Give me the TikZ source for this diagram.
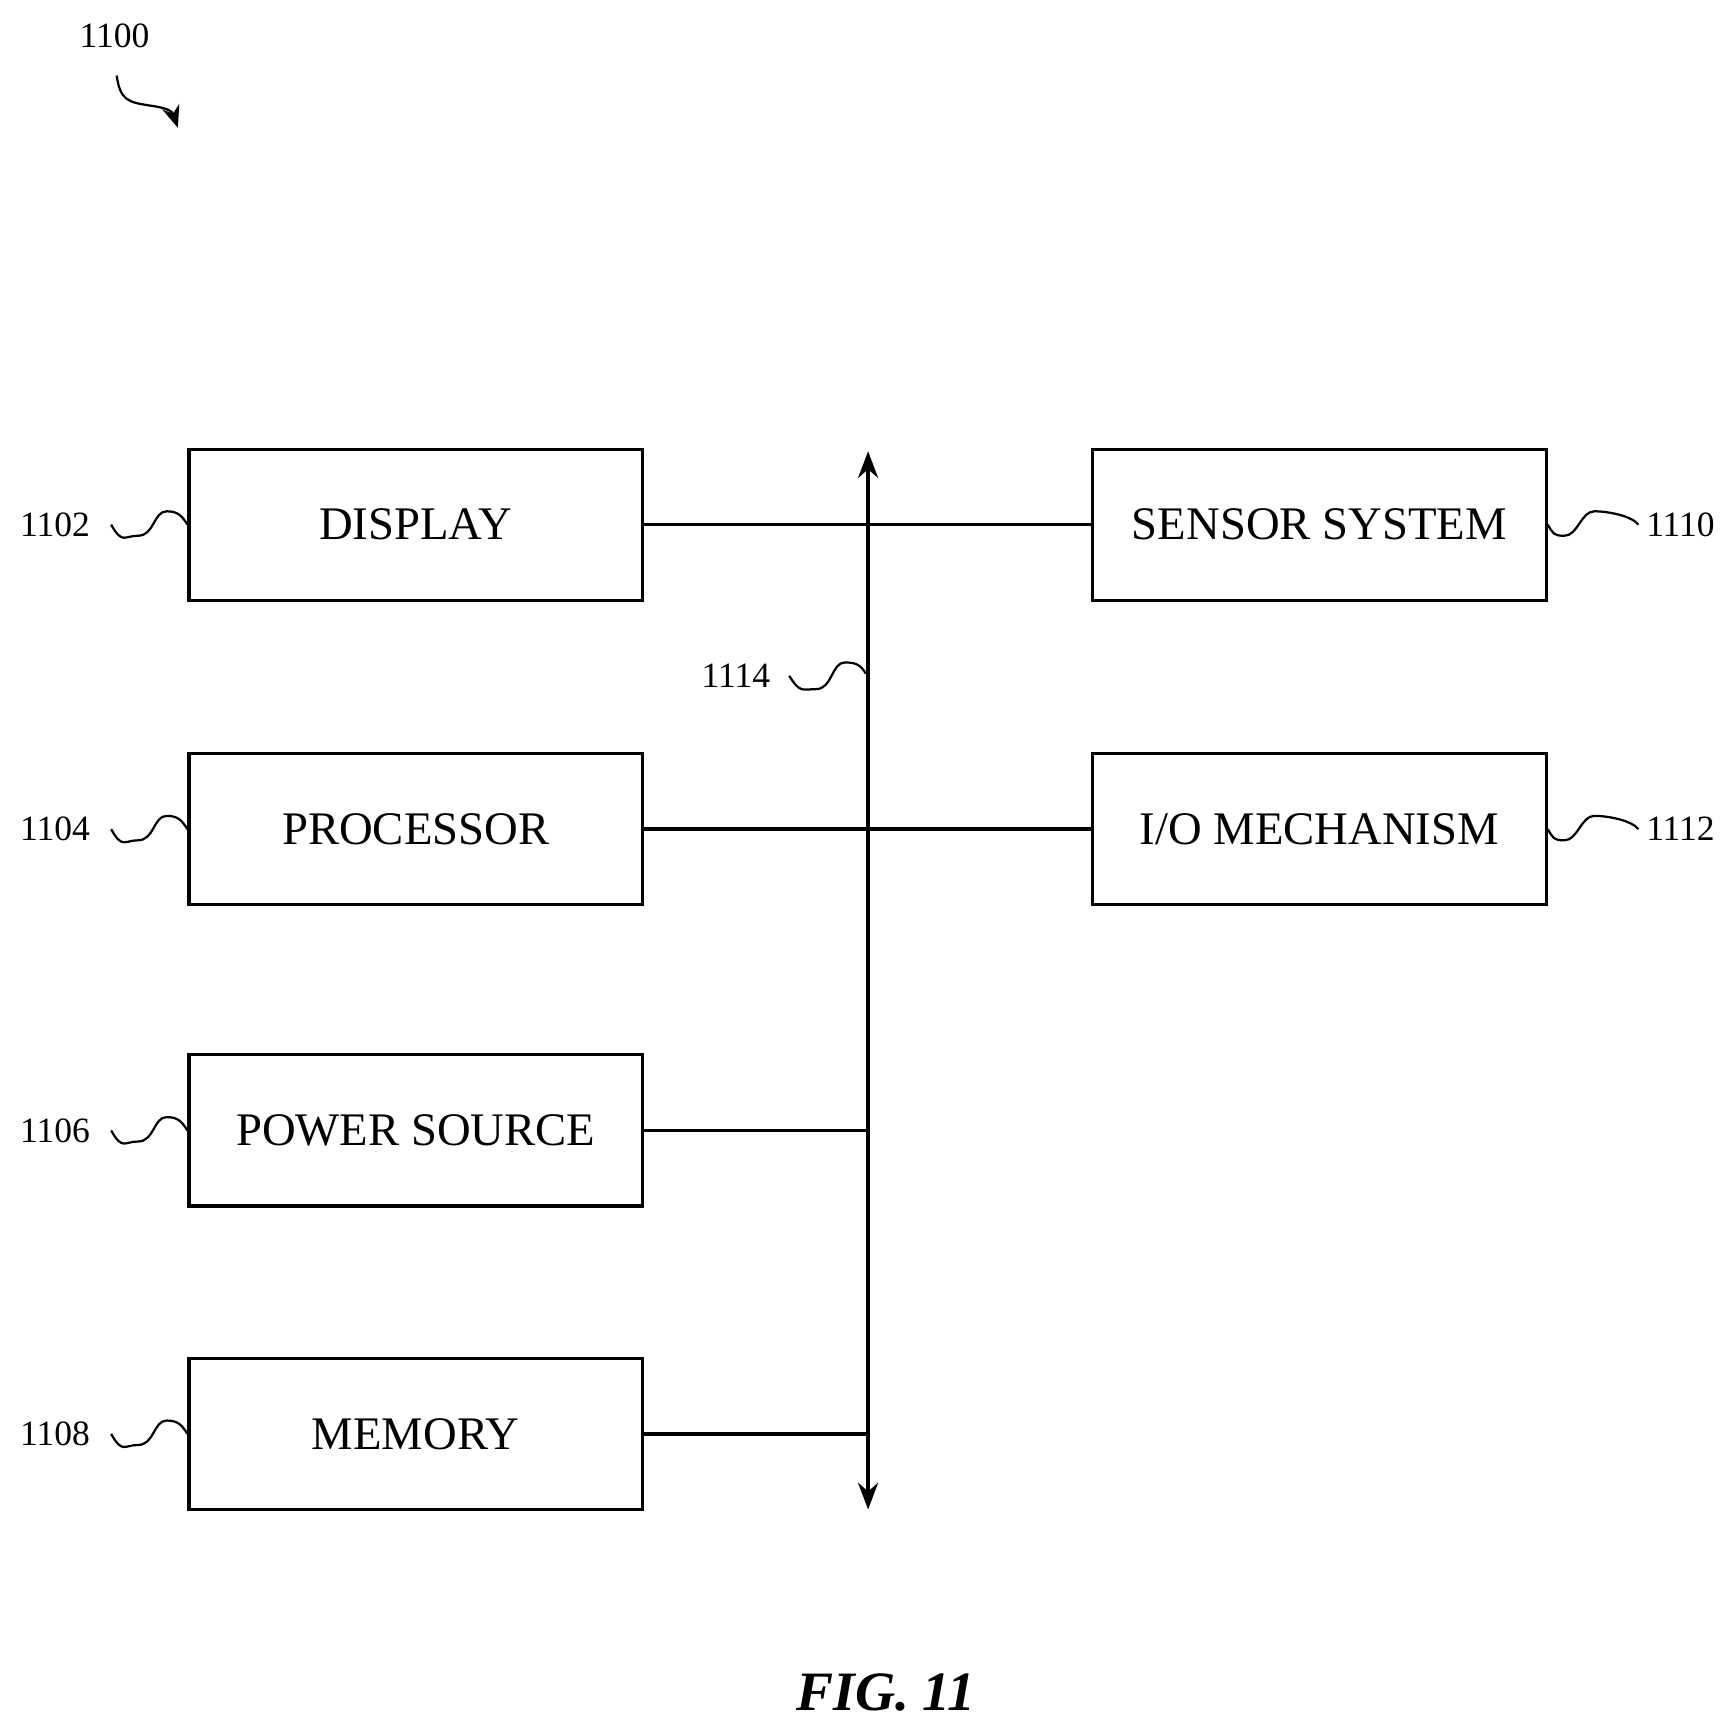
\documentclass[tikz,border=0pt]{standalone}
\usepackage{fontspec}
\setmainfont{Liberation Serif}
\usetikzlibrary{arrows.meta}
\begin{document}
\begin{tikzpicture}[x=0.5pt,y=-0.5pt,
  box/.style={draw,line width=1.4pt,minimum width=204pt,minimum height=68pt,inner sep=0pt,font=\fontsize{21}{24}\selectfont},
  lbl/.style={font=\fontsize{16}{18}\selectfont},
  wire/.style={line width=1.6pt},
  wav/.style={line width=1pt}]
\useasboundingbox (0,0) rectangle (1560,1551);
\node[box] (disp) at (374,472) {DISPLAY};
\node[box] (proc) at (374,746) {PROCESSOR};
\node[box] (pow) at (374,1017) {POWER SOURCE};
\node[box] (mem) at (374,1290) {MEMORY};
\node[box] (sens) at (1187,472) {SENSOR SYSTEM};
\node[box] (io) at (1187,746) {I/O MECHANISM};
\coordinate (bt) at (781,406);
\coordinate (bb) at (781,1358);
\draw[wire,{Stealth[length=12pt,width=9pt]}-{Stealth[length=12pt,width=9pt]}] (bt) -- (bb);
\draw[wire] (disp.east) -- (sens.west);
\draw[wire] (proc.east) -- (io.west);
\draw[wire] (pow.east) -- (pow.east -| bt);
\draw[wire] (mem.east) -- (mem.east -| bt);
\foreach \n/\t/\y in {disp/1102/472,proc/1104/746,pow/1106/1017,mem/1108/1290}{
  \node[lbl,anchor=east] (l\t) at (88,\y) {\t};
  \draw[wav] (l\t.east) ++(12,0) .. controls +(10,18) and +(-12,0) .. +(24,10) .. controls +(15,0) and +(-12,0) .. +(50,-12) .. controls +(10,0) and +(-5,-8) .. (\n.west);
}
\foreach \n/\t/\y in {sens/1110/472,io/1112/746}{
  \node[lbl,anchor=west] (l\t) at (1474,\y) {\t};
  \draw[wav] (\n.east) .. controls +(5,8) and +(-10,0) .. +(15,10) .. controls +(12,0) and +(-12,0) .. +(42,-12) .. controls +(12,0) and +(-6,-8) .. (l\t.west);
}
\node[lbl,anchor=east] (l1114) at (700,608) {1114};
\coordinate (b14) at (779,606);
\draw[wav] (l1114.east) ++(10,0) .. controls +(10,16) and +(-12,0) .. +(24,12) .. controls +(15,0) and +(-12,0) .. +(50,-12) .. controls +(10,0) and +(-5,-8) .. (b14);
\node[lbl] (l1100) at (103,32) {1100};
\coordinate (a1100) at (160,115);
\draw[wav,-{Stealth[length=10pt,width=8pt]}] (105,68) .. controls (108,90) and (115,92) .. (135,95) .. controls (150,97) and (155,100) .. (a1100);
\node[font=\bfseries\itshape\fontsize{25}{28}\selectfont] (fig) at (797,1523) {FIG. 11};
\end{tikzpicture}
\end{document}
